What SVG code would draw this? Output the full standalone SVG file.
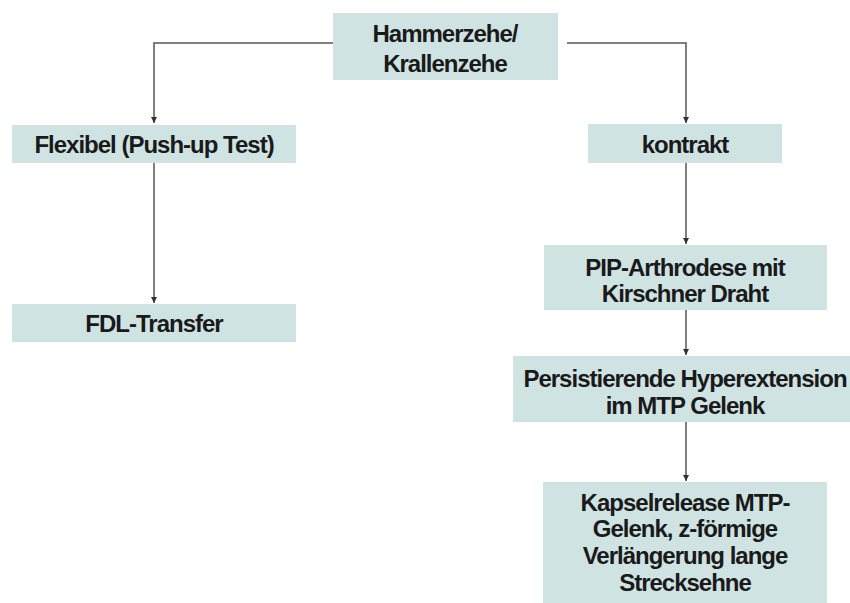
<svg xmlns="http://www.w3.org/2000/svg" width="850" height="603" viewBox="0 0 850 603">
<style>
.box{fill:#d0e3e3}
.t{font-family:"Liberation Sans",Arial,sans-serif;font-weight:bold;font-size:24px;fill:#1a1a1a;text-anchor:middle;letter-spacing:-1px}
.c{fill:none;stroke:#555;stroke-width:1.5}
</style>
<defs>
<marker id="ah" viewBox="0 0 10 10" refX="10" refY="5" markerWidth="6" markerHeight="6" orient="auto" markerUnits="userSpaceOnUse">
<path d="M0,0 L10,5 L0,10 z" fill="#333"/>
</marker>
</defs>
<rect width="850" height="603" fill="#fff"/>
<g id="connectors">
<path class="c" d="M333,43 H154 V123" marker-end="url(#ah)"/>
<path class="c" d="M567,43 H686 V123" marker-end="url(#ah)"/>
<path class="c" d="M154,163 V303" marker-end="url(#ah)"/>
<path class="c" d="M686,163 V244" marker-end="url(#ah)"/>
<path class="c" d="M686,310 V355" marker-end="url(#ah)"/>
<path class="c" d="M686,422 V481" marker-end="url(#ah)"/>
</g>
<g id="n-top">
<rect class="box" x="333" y="13" width="225" height="67"/>
<text class="t" x="445" y="42">Hammerzehe/</text>
<text class="t" x="445" y="72">Krallenzehe</text>
</g>
<g id="n-flex">
<rect class="box" x="12" y="125" width="284" height="38"/>
<text class="t" x="154" y="153">Flexibel (Push-up Test)</text>
</g>
<g id="n-kontrakt">
<rect class="box" x="588" y="124" width="194" height="39"/>
<text class="t" x="685" y="153">kontrakt</text>
</g>
<g id="n-fdl">
<rect class="box" x="12" y="304" width="284" height="38"/>
<text class="t" x="154" y="332">FDL-Transfer</text>
</g>
<g id="n-pip">
<rect class="box" x="544" y="245" width="283" height="65"/>
<text class="t" x="685" y="276">PIP-Arthrodese mit</text>
<text class="t" x="685" y="302">Kirschner Draht</text>
</g>
<g id="n-persist">
<rect class="box" x="513" y="356" width="337" height="66"/>
<text class="t" x="685" y="387">Persistierende Hyperextension</text>
<text class="t" x="685" y="414">im MTP Gelenk</text>
</g>
<g id="n-kapsel">
<rect class="box" x="543" y="482" width="284" height="121"/>
<text class="t" x="685" y="511">Kapselrelease MTP-</text>
<text class="t" x="685" y="537">Gelenk, z-förmige</text>
<text class="t" x="685" y="564">Verlängerung lange</text>
<text class="t" x="685" y="591">Strecksehne</text>
</g>
</svg>
